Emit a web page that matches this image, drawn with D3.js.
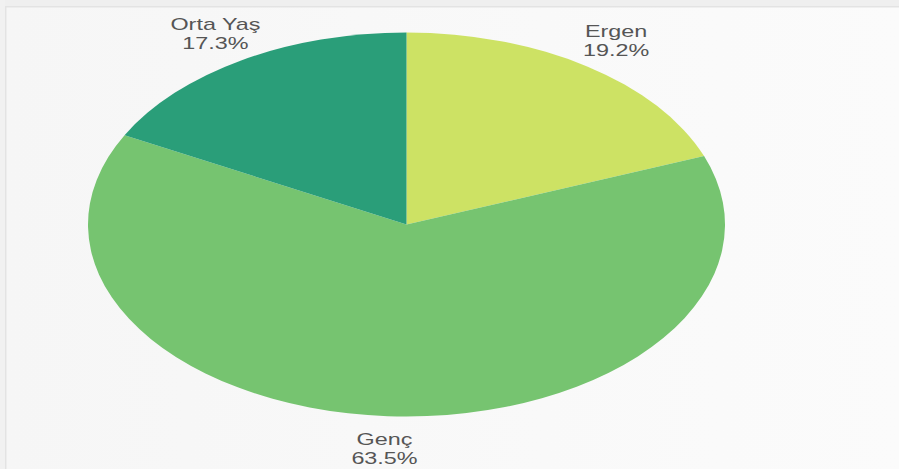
<!DOCTYPE html>
<html>
<head>
<meta charset="utf-8">
<script src="https://cdn.jsdelivr.net/npm/d3@7"></script>
<style>
html,body{margin:0;padding:0;background:#f7f7f7;}
svg{display:block;}
</style>
</head>
<body>
<script>
const categories = ["Ergen", "Genç", "Orta Yaş"];
const values = [19.2, 63.5, 17.3];
const percentLabels = ["19.2%", "63.5%", "17.3%"];
const colors = ["#cde264", "#76c470", "#2a9e79"];

const W = 899, H = 469;
const cx = 406.5, cy = 224.5, R = 192, sx = 318.5 / 192;

const svg = d3.select("body").append("svg").attr("width", W).attr("height", H);

// frame
svg.append("rect").attr("x",0).attr("y",0).attr("width",W).attr("height",H).attr("fill","#f7f7f7");
const grad = svg.append("defs").append("linearGradient").attr("id","bg").attr("x1","0").attr("x2","1");
grad.append("stop").attr("offset","0").attr("stop-color","#f6f6f6");
grad.append("stop").attr("offset","1").attr("stop-color","#fbfbfb");
svg.append("rect").attr("x",7).attr("y",7).attr("width",W-7).attr("height",H-7).attr("fill","url(#bg)");
svg.append("rect").attr("x",0).attr("y",0).attr("width",W).attr("height",6).attr("fill","#efefef");
svg.append("rect").attr("x",0).attr("y",6).attr("width",W).attr("height",1.5).attr("fill","#e3e3e3");
svg.append("rect").attr("x",0).attr("y",0).attr("width",5).attr("height",H).attr("fill","#f1f1f1");
svg.append("rect").attr("x",5).attr("y",6).attr("width",1.5).attr("height",H-6).attr("fill","#e3e3e3");

const pie = d3.pie().sort(null).value(d => d);
const arcs = pie(values);
const arc = d3.arc().innerRadius(0).outerRadius(R);

const g = svg.append("g").attr("transform", `translate(${cx},${cy}) scale(${sx},1)`);
g.selectAll("path").data(arcs).enter().append("path")
  .attr("d", arc)
  .attr("fill", (d,i) => colors[i]);

const k = 1.16;
const labels = svg.selectAll("g.lbl").data(arcs).enter().append("g")
  .attr("class","lbl")
  .attr("transform", d => {
    const a = (d.startAngle + d.endAngle) / 2;
    const c = Math.cos(a);
    const x = cx + Math.sin(a) * R * sx * k;
    const y = cy - c * R * k + (c < 0 ? 2.5 : 0);
    return `translate(${x},${y}) scale(1.39,1)`;
  });
const fontFam = "'Liberation Sans', Arial, sans-serif";
labels.append("text")
  .attr("text-anchor","middle").attr("y",-4)
  .attr("font-family",fontFam).attr("font-size",16.8).attr("fill","#555")
  .text((d,i) => categories[i]);
labels.append("text")
  .attr("text-anchor","middle").attr("y",15)
  .attr("font-family",fontFam).attr("font-size",16.8).attr("fill","#555")
  .text((d,i) => percentLabels[i]);
</script>
</body>
</html>
